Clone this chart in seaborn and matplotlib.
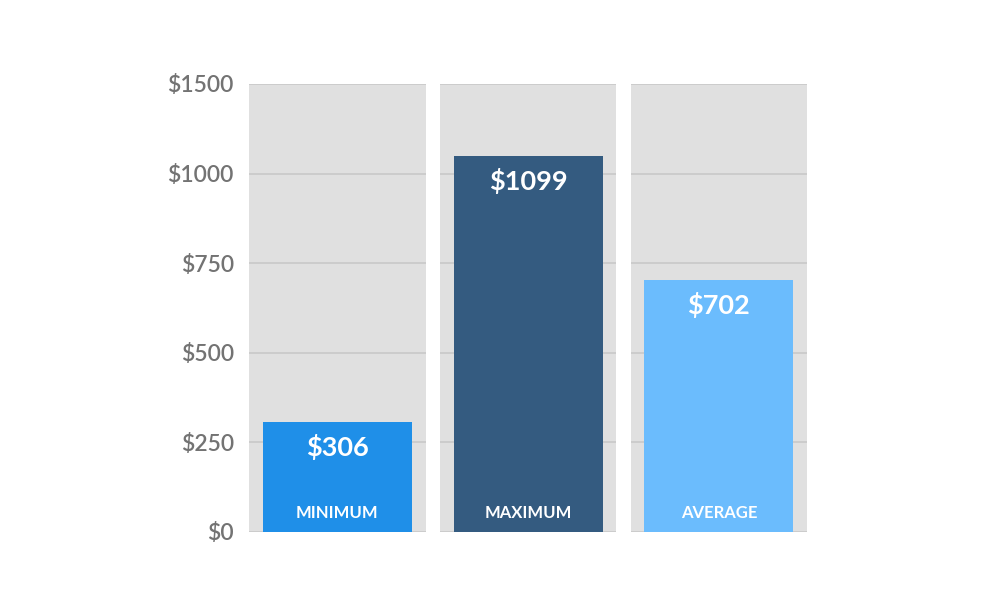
import numpy as np
import pandas as pd
import matplotlib
matplotlib.use('Agg')
import matplotlib.pyplot as plt
import seaborn as sns

# data
categories = ['MINIMUM', 'MAXIMUM', 'AVERAGE']
values = [306, 1099, 702]
value_labels = ['$306', '$1099', '$702']
bar_colors = ['#1f8fe8', '#345b80', '#6bbcfd']
y_ticks = [0, 250, 500, 750, 1000, 1500]
y_tick_labels = ['$0', '$250', '$500', '$750', '$1000', '$1500']

df = pd.DataFrame({'category': categories, 'value': values})


# axis in the original is squeezed above $1000 (last step is 500, not 250)
def fwd(v):
    v = np.asarray(v, dtype=float)
    return np.where(v <= 1000, v, 1000 + (v - 1000) / 2)


def inv(u):
    u = np.asarray(u, dtype=float)
    return np.where(u <= 1000, u, 1000 + (u - 1000) * 2)


sns.set_style('white')
plt.rcParams['font.family'] = ['Lato', 'DejaVu Sans']

fig = plt.figure(figsize=(10.01, 6.14), dpi=100)
ax = fig.add_axes([0.2488, 0.1336, 0.5576, 0.7296])
ax.set_yscale('function', functions=(fwd, inv))

xs = np.arange(len(categories))
half = 0.463

# grey panels behind each bar
ax.bar(xs, [y_ticks[-1]] * len(xs), width=2 * half, color='#e0e0e0',
       zorder=0, linewidth=0)
# gridlines only inside the panels
for x in xs:
    ax.hlines(y_ticks, x - half, x + half, color='#c6c6c6', lw=1.1, zorder=1)

sns.barplot(data=df, x='category', y='value', hue='category',
            palette=bar_colors, width=0.78, legend=False, ax=ax,
            saturation=1, zorder=2, linewidth=0, edgecolor='none')

for x, lab, v, cat in zip(xs, value_labels, values, categories):
    ax.annotate(lab, (x, v), xytext=(0, -18), textcoords='offset points',
                ha='center', va='center', color='white', fontsize=19.5,
                fontweight='bold', zorder=5)
    ax.annotate(cat, (x, 0), xytext=(0, 14), textcoords='offset points',
                ha='center', va='center', color='white', fontsize=12,
                fontweight='bold', zorder=5)

ax.set_xlim(-half, len(xs) - 1 + half)
ax.set_ylim(0, y_ticks[-1])
ax.set_yticks(y_ticks)
ax.set_yticklabels(y_tick_labels, color='#737373', fontsize=16.5,
                   fontweight='semibold')
ax.tick_params(axis='y', length=0, pad=11)
ax.set_xticks([])
ax.set_xlabel('')
ax.set_ylabel('')
for s in ax.spines.values():
    s.set_visible(False)

fig.savefig('out.png', dpi=100)
